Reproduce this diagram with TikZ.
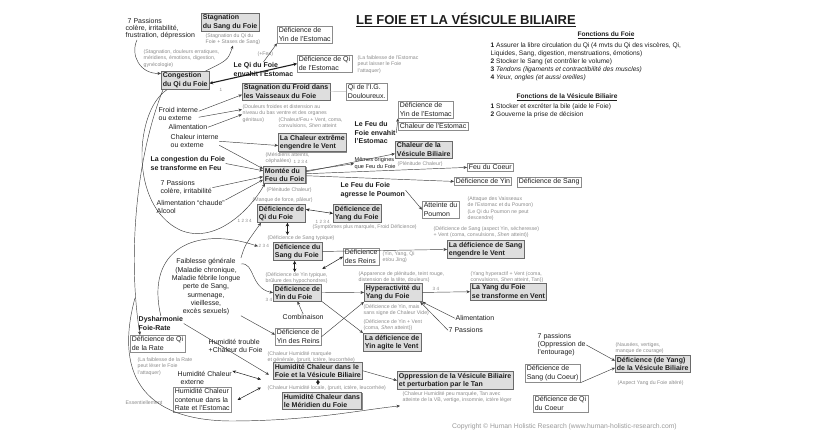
\documentclass[tikz,border=0pt]{standalone}
\usepackage{fontspec}
\setmainfont{Liberation Sans}
\usepackage{tikz}
\usetikzlibrary{arrows.meta,positioning,shadows}
\definecolor{cgris}{HTML}{8C8C8C}
\definecolor{cfond}{HTML}{DEDEDE}
\definecolor{ctrait}{HTML}{6A6A6A}
\definecolor{ctexte}{HTML}{1E1E1E}
\tikzset{
  boite/.style={rectangle, draw=ctrait, fill=cfond, line width=0.6pt, anchor=north west,
    general shadow={fill=black!45, shadow xshift=0.8pt, shadow yshift=-0.8pt},
    align=left, inner sep=1.6pt, text=ctexte, font=\fontsize{7}{8.5}\selectfont\bfseries},
  cadre/.style={rectangle, draw=cgris, fill=white, line width=0.45pt, anchor=north west,
    align=left, inner sep=1.6pt, text=ctexte, font=\fontsize{7}{8.5}\selectfont},
  etiq/.style={anchor=north west, align=left, inner sep=0.5pt, text=ctexte,
    font=\fontsize{7}{8.5}\selectfont\bfseries},
  texte/.style={anchor=north west, align=left, inner sep=0.5pt, text=ctexte,
    font=\fontsize{7}{8}\selectfont},
  note/.style={anchor=north west, align=left, inner sep=0.5pt, text=cgris,
    font=\fontsize{5.2}{6.4}\selectfont},
  chiffre/.style={anchor=north west, inner sep=0.5pt, text=cgris, font=\fontsize{4.6}{5}\selectfont},
  fleche/.style={-{Stealth[length=3.5pt,width=3pt]}, draw=ctexte!85, line width=0.45pt},
  dfleche/.style={{Stealth[length=3.5pt,width=3pt]}-{Stealth[length=3.5pt,width=3pt]},
    draw=ctexte, line width=0.5pt},
  dflechegr/.style={{Stealth[length=3.5pt,width=3.5pt]}-{Stealth[length=3.5pt,width=3.5pt]},
    draw=ctexte, line width=1.1pt},
  lien/.style={draw=cgris!60, line width=0.4pt},
}

\begin{document}
\begin{tikzpicture}[x=1pt,y=-1pt]
  \useasboundingbox[fill=white] (0,0) rectangle (820,435);

  % titre et fonctions
  \node[anchor=north west, inner sep=0pt, text=ctexte, font=\fontsize{13}{15}\selectfont\bfseries]
    (titre) at (356,13) {\underline{LE FOIE ET LA VÉSICULE BILIAIRE}};
  \node[inner sep=0.5pt, text=ctexte, font=\fontsize{6.6}{8}\selectfont\bfseries] (tfoie) at (606,35)
    {\underline{Fonctions du Foie}};
  \node[texte, font=\fontsize{6.6}{8.1}\selectfont] (lfoie) at (490,42)
    {\textbf{1} Assurer la libre circulation du Qi (4 mvts du Qi des viscères, Qi,\\
     Liquides, Sang, digestion, menstruations, émotions)\\
     \textbf{2} Stocker le Sang (et contrôler le volume)\\
     \textbf{3} \textit{Tendons (ligaments et contractibilité des muscles)}\\
     \textbf{4} \textit{Yeux, ongles (et aussi oreilles)}};
  \node[inner sep=0.5pt, text=ctexte, font=\fontsize{6.6}{8}\selectfont\bfseries] (tvb) at (567,97)
    {\underline{Fonctions de la Vésicule Biliaire}};
  \node[texte, font=\fontsize{6.6}{8.1}\selectfont] (lvb) at (490,103)
    {\textbf{1} Stocker et excréter la bile (aide le Foie)\\
     \textbf{2} Gouverne la prise de décision};

  % haut gauche
  \node[texte, font=\fontsize{7}{7}\selectfont] (passions) at (125,18)
    {\hspace*{2pt}7 Passions\\colère, irritabilité,\\frustration, dépression};
  \node[note] (stagnote) at (143,49) {(Stagnation, douleurs erratiques,\\méridiens, émotions, digestion,\\gynécologie)};
  \node[boite] (congestion) at (161,71) {Congestion\\du Qi du Foie};
  \node[chiffre] (n1) at (219,88) {1};
  \node[boite] (stagsang) at (201,13) {Stagnation\\du Sang du Foie};
  \node[note] (stagsangnote) at (205,33) {(Stagnation du Qi du\\Foie + Stases de Sang)};
  \node[cadre] (yinest1) at (277,26) {Déficience de\\Yin de l'Estomac};
  \node[note] (feunote) at (257,51) {(+Feu)};
  \node[etiq] (qienv) at (233,62) {Le Qi du Foie\\envahit l'Estomac};
  \node[cadre] (qiest) at (297,55) {Déficience de Qi\\de l'Estomac};
  \node[note] (faibest) at (357,55) {(La faiblesse de l'Estomac\\peut laisser le Foie\\l'attaquer)};
  \node[boite] (stagfroid) at (242,83) {Stagnation du Froid dans\\les Vaisseaux du Foie};
  \node[cadre] (qiig) at (346,83) {Qi de l'I.G.\\Douloureux.};
  \node[note] (froidnote) at (242,104) {(Douleurs froides et distension au\\niveau du bas ventre et des organes\\génitaux)};
  \node[texte] (froid) at (158,107) {Froid interne\\ou externe};
  \node[texte] (alim1) at (168,124) {Alimentation};
  \node[texte] (chaleur) at (170,134) {Chaleur interne\\ou externe};
  \node[note] (ventnote) at (278,117) {(Chaleur/Feu + Vent, coma,\\convulsions, \textit{Shen} atteint};
  \node[boite] (chalext) at (278,133) {La Chaleur extrême\\engendre le Vent};
  \node[note] (meridnote) at (265,152) {(Méridiens atteints,\\céphalées)};
  \node[chiffre] (n1234a) at (293,160) {1 2 3 4};

  % Feu du Foie
  \node[etiq] (feuest) at (354,121) {Le Feu du\\Foie envahit\\l'Estomac};
  \node[cadre] (yinest2) at (398,101) {Déficience de\\Yin de l'Estomac};
  \node[cadre] (chalest) at (398,122) {Chaleur de l'Estomac};
  \node[boite] (chalvb) at (395,141) {Chaleur de la\\Vésicule Biliaire};
  \node[note] (plenvb) at (397,161) {(Plénitude Chaleur)};
  \node[texte, font=\fontsize{5.6}{6.6}\selectfont] (origines) at (354,157) {Mêmes origines\\que Feu du Foie};
  \node[etiq] (congfeu) at (150,156) {La congestion du Foie\\se transforme en Feu};
  \node[texte] (pass2) at (160,180) {7 Passions\\colère, irritabilité};
  \node[texte] (alim2) at (156,200) {Alimentation “chaude”\\Alcool};
  \node[boite] (montee) at (263,166) {Montée du\\Feu du Foie};
  \node[cadre] (feucoeur) at (467,163) {Feu du Coeur};
  \node[cadre] (defyin) at (454,177) {Déficience de Yin};
  \node[cadre] (defsang) at (517,177) {Déficience de Sang};
  \node[note] (plenmontee) at (266,187) {(Plénitude Chaleur)};
  \node[note] (manque) at (252,197) {(Manque de force, pâleur)};
  \node[etiq] (feupoumon) at (340,182) {Le Feu du Foie\\agresse le Poumon};
  \node[cadre] (poumon) at (422,201) {Atteinte du\\Poumon};
  \node[note] (attaque) at (467,196) {(Attaque des Vaisseaux\\de l'Estomac et du Poumon)\\(Le Qi du Poumon ne peut\\descendre)};

  % deficiences
  \node[boite] (defqi) at (257,204) {Déficience de\\Qi du Foie};
  \node[chiffre] (n1234b) at (237,219) {1 2 3 4};
  \node[boite] (defyang) at (333,204) {Déficience de\\Yang du Foie};
  \node[chiffre] (n1234c) at (315,220) {1 2 3 4};
  \node[note] (sympt) at (312,224) {(Symptômes plus marqués, Froid Déficience)};
  \node[note] (sangtyp) at (267,235) {(Déficience de Sang typique)};
  \node[chiffre] (n234) at (258,244) {2 3 4};
  \node[boite] (defsangf) at (273,242) {Déficience du\\Sang du Foie};
  \node[note] (sangventnote) at (433,226) {(Déficience de Sang (aspect Yin, sécheresse)\\+ Vent (coma, convulsions, \textit{Shen} atteint))};
  \node[boite] (sangvent) at (447,240) {La déficience de Sang\\engendre le Vent};
  \node[cadre] (reins) at (343,248) {Déficience\\des Reins};
  \node[note] (reinsnote) at (382,251) {(Yin, Yang, Qi\\et/ou Jing)};
  \node[note] (yintyp) at (265,272) {(Déficience de Yin typique,\\brûlure des hypochondres)};
  \node[note] (plenit) at (358,271) {(Apparence de plénitude, teint rouge,\\distension de la tête, douleurs)};
  \node[note] (yangventnote) at (470,271) {(Yang hyperactif + Vent (coma,\\convulsions, \textit{Shen} atteint, Tan))};
  \node[texte, anchor=north, align=center, font=\fontsize{7}{8.3}\selectfont] (faiblesse) at (206,258)
    {Faiblesse générale\\(Maladie chronique,\\Maladie fébrile longue\\perte de Sang,\\surmenage,\\vieillesse,\\excès sexuels)};
  \node[boite] (defyinf) at (273,284) {Déficience de\\Yin du Foie};
  \node[chiffre] (n34a) at (265,298) {3 4};
  \node[boite] (hyper) at (364,283) {Hyperactivité du\\Yang du Foie};
  \node[chiffre] (n34b) at (432,287) {3 4};
  \node[boite] (yangvent) at (470,283) {La Yang du Foie\\se transforme en Vent};
  \node[note] (sansnote) at (363,304) {(Déficience de Yin, mais\\sans signe de Chaleur Vide)};
  \node[note] (yinventnote) at (363,319) {(Déficience de Yin + Vent\\(coma, \textit{Shen} atteint))};
  \node[boite] (yinagite) at (363,333) {La déficience de\\Yin agite le Vent};
  \node[texte] (combi) at (282,314) {Combinaison};
  \node[cadre] (yinreins) at (275,328) {Déficience de\\Yin des Reins};
  \node[texte] (alim3) at (455,315) {Alimentation};
  \node[texte] (pass3) at (448,327) {7 Passions};

  % bas
  \node[etiq] (dysh) at (138,316) {Dysharmonie\\Foie-Rate};
  \node[cadre] (qirate) at (130,335) {Déficience de Qi\\de la Rate};
  \node[note] (ratenote) at (137,357) {(La faiblesse de la Rate\\peut léser le Foie\\l'attaquer)};
  \node[texte] (humtrouble) at (208,339) {Humidité trouble\\+Chaleur du Foie};
  \node[note] (humnote1) at (267,351) {(Chaleur Humidité marquée\\et générale, (prurit, ictère, leucorrhée)};
  \node[boite] (humfoie) at (273,362) {Humidité Chaleur dans le\\Foie et la Vésicule Biliaire};
  \node[note] (humnote2) at (267,385) {(Chaleur Humidité locale, (prurit, ictère, leucorrhée)};
  \node[boite] (hummer) at (282,392) {Humidité Chaleur dans\\le Méridien du Foie};
  \node[texte] (humext) at (177,371) {Humidité Chaleur\\\hspace*{3pt}externe};
  \node[cadre] (humrate) at (173,387) {Humidité Chaleur\\contenue dans la\\Rate et l'Estomac};
  \node[note] (essent) at (125,400) {Essentiellement};
  \node[boite] (opp) at (397,371) {Oppression de la Vésicule Biliaire\\et perturbation par le Tan};
  \node[note] (oppnote) at (402,391) {(Chaleur Humidité peu marquée, Tan avec\\atteinte de la VB, vertige, insomnie, ictère léger};
  \node[texte] (pass4) at (537,333) {7 passions\\(Oppression de\\l'entourage)};
  \node[cadre] (sangcoeur) at (525,364) {Déficience de\\Sang (du Coeur)};
  \node[cadre] (qicoeur) at (533,395) {Déficience de Qi\\du Coeur};
  \node[note] (nausees) at (615,342) {(Nausées, vertiges,\\ manque de courage)};
  \node[boite] (defvb) at (615,355) {Déficience (de Yang)\\de la Vésicule Biliaire};
  \node[note] (aspect) at (617,380) {(Aspect Yang du Foie altéré)};
  \node[anchor=north west, inner sep=0pt, text=black!40, font=\fontsize{6.8}{8}\selectfont] (copy) at (452,423)
    {Copyright © Human Holistic Research (www.human-holistic-research.com)};

  % liens du haut
  \draw[fleche] ([xshift=12pt]passions.south west) .. controls (130,55) and (140,74) .. ([yshift=7pt]congestion.west);
  \draw[fleche] ([xshift=-4pt]congestion.north east) .. controls (228,60) .. (stagsangnote.south);
  \draw[fleche] (qienv.north) -- (yinest1.south west);
  \draw[dflechegr] ([yshift=-3pt]congestion.east) -- (qiest.west);
  \draw[lien] (stagfroid.east) -- (qiig.west);
  \draw[fleche] ([yshift=3pt]froid.east) -- ([yshift=-3pt]stagfroid.west);
  \draw[fleche] ([yshift=-3pt]froid.east) -- ([yshift=4pt]froidnote.west);
  \draw[fleche] (alim1.east) -- ([yshift=-1pt]froidnote.west);
  \draw[fleche] (chaleur.east) -- ([yshift=-3pt]chalext.west);
  \draw[fleche] ([yshift=-4pt]chaleur.east) -- ([yshift=6pt]montee.west);
  \draw[fleche] (congfeu.east) -- ([yshift=4pt]montee.west);
  \draw[fleche] (pass2.east) -- ([yshift=-2pt]montee.west);
  \draw[fleche] (alim2.north east) -- ([yshift=-5pt]montee.west);
  \draw[fleche] ([xshift=6pt]congestion.south west) .. controls (135,110) and (128,205) .. (180,230)
    .. controls (215,245) and (250,210) .. ([xshift=2pt]montee.south west);
  \draw[fleche] ([xshift=2pt]congestion.south west) .. controls (135,160) and (128,260) .. ([xshift=10pt]qirate.north west);
  \coordinate (depart) at (135,298);
  \draw[fleche] (depart) .. controls (118,360) and (130,420) .. (230,421)
    .. controls (310,421) and (360,410) .. ([shift={(3pt,-16pt)}]opp.south west);

  % Feu du Foie
  \draw[fleche] (feuest.east) -- (yinest2.south west);
  \draw[fleche] ([yshift=4pt]montee.east) -- (origines.west);
  \draw[fleche] ([yshift=3pt]montee.east) -- ([yshift=-4pt]chalvb.west);
  \draw[fleche] ([yshift=1pt]montee.east) -- (feucoeur.west);
  \draw[fleche] ([yshift=-1pt]montee.east) -- (defyin.west);
  \draw[fleche] (feupoumon.east) -- (poumon.west);

  % deficiences
  \draw[dfleche] ([yshift=4pt]defqi.east) -- (defyang.west);
  \draw[dflechegr] ([xshift=6pt]defqi.south) -- ([xshift=6pt]defqi.south |- sangtyp.north);
  \draw[dflechegr] ([xshift=-3pt]defsangf.south) -- ([xshift=-3pt]defsangf.south |- yintyp.north);
  \draw[fleche] (defsangf.east) -- (sangvent.west);
  \draw[dfleche] (reins.west) -- ([yshift=-8pt]defsangf.south east);
  \draw[fleche] (dysh.north) .. controls (145,250) and (195,225) .. (n234.west);
  \draw[fleche] (faiblesse.north east) .. controls (245,245) .. ([xshift=4pt]defqi.south west);
  \draw[fleche] ([yshift=-6pt]faiblesse.north east) .. controls (255,262) and (250,288) .. (defyinf.west);
  \draw[fleche] (faiblesse.south east) -- ([yshift=2pt]yinreins.west);
  \draw[fleche] (defyinf.east) -- (hyper.west);
  \draw[fleche] (combi.north) -- (defyinf.south);
  \draw[fleche] (defyinf.south east) -- (yinagite.north west);
  \draw[fleche] (yinreins.east) -- (hyper.south west);
  \draw[fleche] (hyper.east) -- (yangvent.west);
  \draw[fleche] (alim3.west) -- (hyper.south east);
  \draw[fleche] (pass3.west) -- ([xshift=-2pt]hyper.south east);

  % humidite
  \draw[fleche] (dysh.east) -- ([xshift=-4pt,yshift=-4pt]humfoie.west);
  \draw[dfleche] (humext.north east) -- ([xshift=-12pt]humfoie.south west);
  \draw[dfleche] ([xshift=6pt]humrate.east) -- ([shift={(-12pt,-8pt)}]humfoie.south west);
  \draw[dflechegr] (humfoie.south) -- (humfoie.south |- humnote2.north);
  \draw[fleche] (humfoie.east) -- (opp.west);
  \draw[fleche] (pass4.east) -- ([yshift=3pt]defvb.west);
  \draw[fleche] (sangcoeur.south east) -- ([yshift=-4pt]defvb.west);
\end{tikzpicture}
\end{document}
